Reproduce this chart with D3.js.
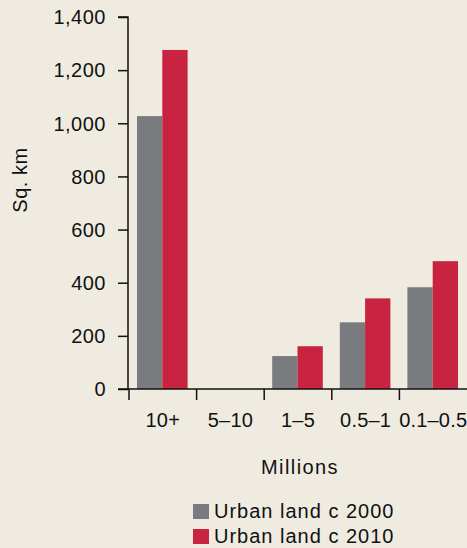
<!DOCTYPE html>
<html><head><meta charset="utf-8">
<script src="https://cdn.jsdelivr.net/npm/d3@7"></script>
<style>
html,body{margin:0;padding:0;background:#efebe1;}
svg{display:block;font-family:"Liberation Sans",Arial,sans-serif;}
</style></head>
<body><svg id="c" width="467" height="548"></svg>
<script>
const categories = ["10+", "5–10", "1–5", "0.5–1", "0.1–0.5"];
const series = ["Urban land c 2000", "Urban land c 2010"];
const values2000 = [1027, 0, 124, 251, 383];
const values2010 = [1276, 0, 161, 341, 481];
const yTicks = [0, 200, 400, 600, 800, 1000, 1200, 1400];
const colors = ["#7a7b7f", "#c82340"];

const svg = d3.select("#c");
const x0 = d3.scaleBand().domain(categories).range([129, 467]).paddingInner(0).paddingOuter(0);
const x1 = d3.scaleBand().domain(series).range([8, x0.bandwidth() - 9]).padding(0);
const y = d3.scaleLinear().domain([0, 1400]).range([389, 17]);

const data = categories.map((c, i) => ({cat: c, vals: [values2000[i], values2010[i]]}));

// bars
const g = svg.append("g");
data.forEach(d => {
  d.vals.forEach((v, j) => {
    if (v <= 0) return;
    g.append("rect")
      .attr("x", x0(d.cat) + x1(series[j]))
      .attr("width", x1.bandwidth())
      .attr("y", y(v))
      .attr("height", y(0) - y(v))
      .attr("fill", colors[j]);
  });
});

const FONT = "Liberation Sans, Arial, sans-serif";
// y axis
const yAx = svg.append("g").attr("transform", "translate(128,0)")
  .call(d3.axisLeft(y).tickValues(yTicks).tickSize(10).tickPadding(12).tickFormat(d3.format(",")));
yAx.attr("font-family", FONT).attr("font-size", 20);
yAx.select(".domain").attr("d", `M0,${y(0)}V${y(1400)}H-10`).attr("stroke", "#111").attr("stroke-width", 1.5);
yAx.selectAll(".tick line").attr("stroke", "#111").attr("stroke-width", 1.5);
yAx.selectAll(".tick text").attr("font-size", 20).attr("fill", "#111").attr("letter-spacing", "0.5px").attr("dy", "0.34em");

// x axis baseline
svg.append("line").attr("x1", 118).attr("x2", 467).attr("y1", y(0)).attr("y2", y(0))
  .attr("stroke", "#111").attr("stroke-width", 1.5);
// band boundary ticks
const bounds = categories.map(c => x0(c));
svg.selectAll(".xt").data(bounds).enter().append("line")
  .attr("x1", d => d).attr("x2", d => d)
  .attr("y1", y(0)).attr("y2", y(0) + 11)
  .attr("stroke", "#111").attr("stroke-width", 1.5);
svg.selectAll(".xl").data(categories).enter().append("text")
  .attr("x", d => x0(d) + x0.bandwidth() / 2)
  .attr("y", 427)
  .attr("text-anchor", "middle")
  .attr("font-size", 20).attr("fill", "#111").attr("letter-spacing", "0.2px")
  .text(d => d);

// axis titles
svg.append("text").attr("x", 300).attr("y", 474).attr("text-anchor", "middle")
  .attr("font-size", 20).attr("fill", "#111").attr("letter-spacing", "1.4px").text("Millions");
svg.append("text").attr("transform", "translate(27,180) rotate(-90)").attr("text-anchor", "middle")
  .attr("font-size", 20).attr("fill", "#111").attr("letter-spacing", "0.5px").text("Sq. km");

// legend
const leg = svg.append("g");
series.forEach((s, i) => {
  leg.append("rect").attr("x", 193).attr("y", 504 + i * 25).attr("width", 16).attr("height", 15).attr("fill", colors[i]);
  leg.append("text").attr("x", 214).attr("y", 518 + i * 25).attr("font-size", 20).attr("fill", "#111")
    .attr("letter-spacing", "1px").text(s);
});
</script></body></html>
